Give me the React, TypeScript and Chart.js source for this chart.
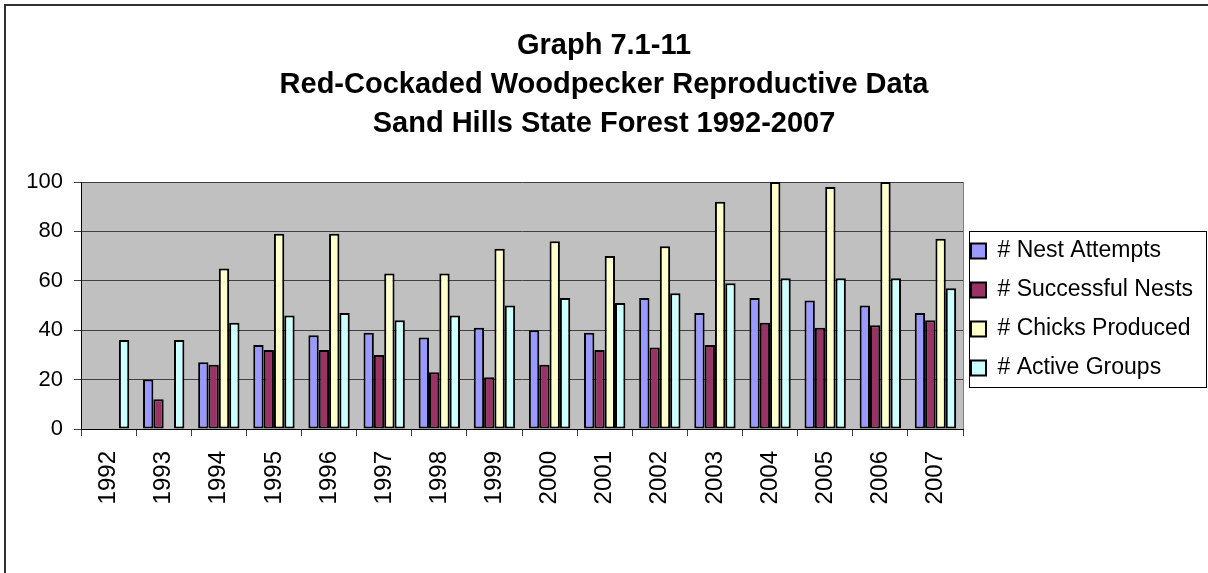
import React, { useEffect, useRef } from 'react';
import { Chart, registerables } from 'chart.js';

Chart.register(...registerables);

// ---- data ----
const years = ['1992', '1993', '1994', '1995', '1996', '1997', '1998', '1999', '2000', '2001', '2002', '2003', '2004', '2005', '2006', '2007'];
const seriesNames = ['# Nest Attempts', '# Successful Nests', '# Chicks Produced', '# Active Groups'];
const nestAttempts = [null, 20, 27, 34, 38, 39, 37, 41, 40, 39, 53, 47, 53, 52, 50, 47];
const successfulNests = [null, 12, 26, 32, 32, 30, 23, 21, 26, 32, 33, 34, 43, 41, 42, 44];
const chicksProduced = [null, null, 65, 79, 79, 63, 63, 73, 76, 70, 74, 92, 100, 98, 100, 77];
const activeGroups = [36, 36, 43, 46, 47, 44, 46, 50, 53, 51, 55, 59, 61, 61, 61, 57];
const titleLines = ['Graph 7.1-11', 'Red-Cockaded Woodpecker Reproductive Data', 'Sand Hills State Forest 1992-2007'];
const yMin = 0;
const yMax = 100;
const yStep = 20;

// ---- styles ----
const FONT = "'Liberation Sans', Arial, Helvetica, sans-serif";
const seriesColors = ['#9999FF', '#993366', '#FFFFCC', '#CCFFFF'];
const W = 1208;
const H = 573;

const framePlugin = {
  id: 'frame',
  beforeLayout(chart: any) {
    const lg = chart.legend;
    if (lg && !lg.__fixed) {
      const fit = lg.fit;
      lg.fit = function () {
        fit.call(this);
        this.width = 245;
      };
      lg.__fixed = true;
    }
  },
  afterLayout(chart: any) {
    const lg = chart.legend;
    if (lg) {
      lg.left -= 8;
      lg.right -= 8;
      lg.top += 23;
      lg.bottom += 23;
    }
  },
  beforeDraw(chart: any) {
    const { ctx, chartArea: a } = chart;
    ctx.save();
    ctx.fillStyle = '#ffffff';
    ctx.fillRect(0, 0, chart.width, chart.height);
    ctx.fillStyle = '#c0c0c0';
    ctx.fillRect(a.left, a.top, a.right - a.left, a.bottom - a.top);
    ctx.strokeStyle = '#303030';
    ctx.lineWidth = 2;
    ctx.beginPath();
    ctx.moveTo(5, chart.height);
    ctx.lineTo(5, 5);
    ctx.lineTo(chart.width, 5);
    ctx.stroke();
    ctx.restore();
  },
  afterDraw(chart: any) {
    const { ctx, chartArea: a } = chart;
    ctx.save();
    // right edge of plot area
    ctx.strokeStyle = '#808080';
    ctx.lineWidth = 1;
    ctx.beginPath();
    ctx.moveTo(Math.round(a.right) + 0.5, a.top);
    ctx.lineTo(Math.round(a.right) + 0.5, a.bottom);
    ctx.stroke();
    // legend frame
    const lg = chart.legend;
    const hb = lg && lg.legendHitBoxes;
    if (hb && hb.length) {
      const first = hb[0];
      const last = hb[hb.length - 1];
      const left = Math.round(first.left - 2) + 0.5;
      const top = Math.round(first.top - 9) + 0.5;
      const bottom = Math.round(last.top + last.height + 7) + 0.5;
      const right = chart.width - 1.5;
      ctx.strokeStyle = '#000';
      ctx.lineWidth = 1;
      ctx.strokeRect(left, top, right - left, bottom - top);
    }
    ctx.restore();
  },
};

export default function App() {
  const ref = useRef<HTMLCanvasElement>(null);

  useEffect(() => {
    const canvas = ref.current;
    if (!canvas) return;
    const seriesData = [nestAttempts, successfulNests, chicksProduced, activeGroups];
    const chart = new Chart(canvas, {
      type: 'bar',
      data: {
        labels: years,
        datasets: seriesNames.map((name, i) => ({
          label: name,
          data: seriesData[i],
          backgroundColor: seriesColors[i],
          borderColor: '#000000',
          borderWidth: 2,
          borderSkipped: false,
          categoryPercentage: 0.75,
          barPercentage: 1.0,
        })),
      },
      options: {
        responsive: false,
        animation: false,
        devicePixelRatio: 1,
        layout: { padding: { top: 0, left: 0, right: 0, bottom: 0 } },
        plugins: {
          tooltip: { enabled: false },
          title: {
            display: true,
            text: titleLines,
            color: '#000',
            font: { family: FONT, size: 29, weight: 'bold', lineHeight: '39px' },
            padding: { top: 26, bottom: 39 },
          },
          legend: {
            display: true,
            position: 'right',
            align: 'center',
            labels: {
              boxWidth: 15,
              boxHeight: 15,
              padding: 16,
              color: '#000',
              font: { family: FONT, size: 23 },
            },
          },
        },
        scales: {
          x: {
            grid: {
              display: true,
              drawOnChartArea: false,
              drawTicks: true,
              tickLength: 7,
              color: '#404040',
              offset: true,
            },
            border: { display: true, color: '#000', width: 1 },
            ticks: {
              minRotation: 90,
              maxRotation: 90,
              autoSkip: false,
              padding: 15,
              color: '#000',
              font: { family: FONT, size: 24 },
            },
            afterFit(scale: any) {
              scale.height = H - 429;
            },
          },
          y: {
            min: yMin,
            max: yMax,
            ticks: {
              stepSize: yStep,
              padding: 11,
              color: '#000',
              font: { family: FONT, size: 22 },
            },
            grid: { color: '#404040', tickLength: 7, drawTicks: true },
            border: { display: true, color: '#000', width: 1 },
            afterFit(scale: any) {
              scale.width = 81;
            },
          },
        },
      },
      plugins: [framePlugin],
    } as any);
    return () => chart.destroy();
  }, []);

  return (
    <div style={{ position: 'absolute', left: 0, top: 0, width: W, height: H }}>
      <canvas ref={ref} width={W} height={H} style={{ display: 'block', width: W, height: H }} />
    </div>
  );
}
